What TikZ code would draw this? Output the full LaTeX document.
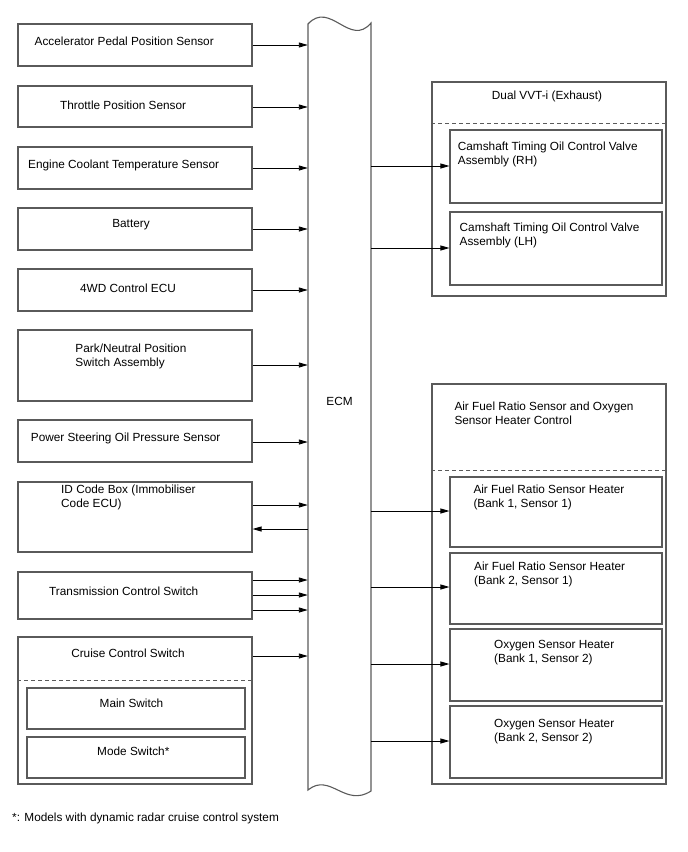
\documentclass[tikz,border=0pt]{standalone}
\usepackage{fontspec}
\setmainfont{Liberation Sans}
\usetikzlibrary{arrows.meta,fit}
\definecolor{boxgray}{HTML}{5A5A5A}
\newcommand\twol[2]{\begin{tabular}[t]{@{}l@{}}#1\\#2\end{tabular}}
\begin{document}
\begin{tikzpicture}[x=1bp,y=-1bp,
  box/.style={draw=boxgray, line width=1.1bp, inner sep=0pt},
  lbl/.style={inner sep=0pt, anchor=base west, font=\fontsize{11.8bp}{14.2bp}\selectfont},
  clbl/.style={lbl, anchor=base},
  conn/.style={draw=black, line width=0.9bp, -{Triangle[length=9bp,width=5bp]}},
  dashline/.style={draw=boxgray, line width=1bp, dash pattern=on 4bp off 3bp}
]
\useasboundingbox (0,0) rectangle (688,852);

% ECM
\node[inner sep=0pt, fit={(308,24) (371,790)}] (ecm) {};
\draw[boxgray, line width=1.1bp] (308,24) .. controls (330,0) and (350,48) .. (371,23)
  -- (371,791) .. controls (345,808) and (330,772) .. (308,790) -- cycle;
\node[clbl] (ecmt) at (339.5,405.5) {ECM};

% left boxes
\node[box, fit={(18,24) (252,66)}] (b1) {};
\node[lbl] at (34.5,45.5) {Accelerator Pedal Position Sensor};
\node[box, fit={(18,86) (252,127)}] (b2) {};
\node[lbl] at (60,109) {Throttle Position Sensor};
\node[box, fit={(18,147) (252,189)}] (b3) {};
\node[lbl] at (28,168.3) {Engine Coolant Temperature Sensor};
\node[box, fit={(18,208) (252,250)}] (b4) {};
\node[clbl] at (131,227.3) {Battery};
\node[box, fit={(18,269) (252,311)}] (b5) {};
\node[clbl] at (128,292.6) {4WD Control ECU};
\node[box, fit={(18,330) (252,401)}] (b6) {};
\node[lbl] at (75.3,352.3) {\twol{Park/Neutral Position}{Switch Assembly}};
\node[box, fit={(18,420) (252,462)}] (b7) {};
\node[lbl] at (30.7,441.7) {Power Steering Oil Pressure Sensor};
\node[box, fit={(18,482) (252,552)}] (b8) {};
\node[lbl] at (61,493.5) {\twol{ID Code Box (Immobiliser}{Code ECU)}};
\node[box, fit={(18,572) (252,619)}] (b9) {};
\node[lbl] at (49,595.5) {Transmission Control Switch};
\node[box, fit={(18,637) (252,784)}] (b10) {};
\node[clbl] at (128,657.3) {Cruise Control Switch};
\draw[dashline] (b10.west |- 0,680) -- (b10.east |- 0,680);
\node[box, fit={(27,688) (245,729)}] (b10a) {};
\node[clbl] at (131.5,707.3) {Main Switch};
\node[box, fit={(27,737) (245,778)}] (b10b) {};
\node[clbl] at (133.3,755) {Mode Switch*};

% right boxes
\node[box, fit={(432,82) (666,296)}] (r1) {};
\node[clbl] at (547,99.3) {Dual VVT-i (Exhaust)};
\draw[dashline] (r1.west |- 0,123) -- (r1.east |- 0,123);
\node[box, fit={(450,130) (662,203)}] (r1a) {};
\node[lbl] at (457.7,150) {\twol{Camshaft Timing Oil Control Valve}{Assembly (RH)}};
\node[box, fit={(450,212) (662,285)}] (r1b) {};
\node[lbl] at (459.5,231.7) {\twol{Camshaft Timing Oil Control Valve}{Assembly (LH)}};

\node[box, fit={(432,384) (666,784)}] (r2) {};
\node[lbl] at (454.3,410) {\twol{Air Fuel Ratio Sensor and Oxygen}{Sensor Heater Control}};
\draw[dashline] (r2.west |- 0,470) -- (r2.east |- 0,470);
\node[box, fit={(450,477) (662,547)}] (r2a) {};
\node[lbl] at (473.3,493.3) {\twol{Air Fuel Ratio Sensor Heater}{(Bank 1, Sensor 1)}};
\node[box, fit={(450,553) (662,624)}] (r2b) {};
\node[lbl] at (474,570) {\twol{Air Fuel Ratio Sensor Heater}{(Bank 2, Sensor 1)}};
\node[box, fit={(450,629) (662,701)}] (r2c) {};
\node[lbl] at (494,648.3) {\twol{Oxygen Sensor Heater}{(Bank 1, Sensor 2)}};
\node[box, fit={(450,706) (662,778)}] (r2d) {};
\node[lbl] at (494,727.3) {\twol{Oxygen Sensor Heater}{(Bank 2, Sensor 2)}};

% connectors: inputs
\draw[conn] (b1.east |- 0,45) -- (ecm.west |- 0,45);
\draw[conn] (b2.east |- 0,107) -- (ecm.west |- 0,107);
\draw[conn] (b3.east |- 0,168) -- (ecm.west |- 0,168);
\draw[conn] (b4.east |- 0,229) -- (ecm.west |- 0,229);
\draw[conn] (b5.east |- 0,290) -- (ecm.west |- 0,290);
\draw[conn] (b6.east |- 0,365) -- (ecm.west |- 0,365);
\draw[conn] (b7.east |- 0,442) -- (ecm.west |- 0,442);
\draw[conn] (b8.east |- 0,505) -- (ecm.west |- 0,505);
\draw[conn] (ecm.west |- 0,529) -- (b8.east |- 0,529);
\draw[conn] (b9.east |- 0,580) -- (ecm.west |- 0,580);
\draw[conn] (b9.east |- 0,595) -- (ecm.west |- 0,595);
\draw[conn] (b9.east |- 0,610) -- (ecm.west |- 0,610);
\draw[conn] (b10.east |- 0,656) -- (ecm.west |- 0,656);

% connectors: outputs
\draw[conn] (ecm.east |- 0,166) -- (r1a.west |- 0,166);
\draw[conn] (ecm.east |- 0,248) -- (r1b.west |- 0,248);
\draw[conn] (ecm.east |- 0,511) -- (r2a.west |- 0,511);
\draw[conn] (ecm.east |- 0,587) -- (r2b.west |- 0,587);
\draw[conn] (ecm.east |- 0,664) -- (r2c.west |- 0,664);
\draw[conn] (ecm.east |- 0,741) -- (r2d.west |- 0,741);

% footnote
\node[lbl] (fn) at (12,821.6) {*: Models with dynamic radar cruise control system};
\end{tikzpicture}
\end{document}
